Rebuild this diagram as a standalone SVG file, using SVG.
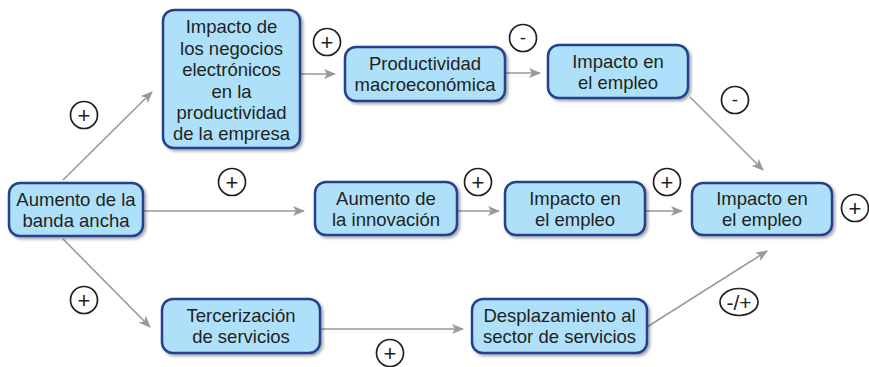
<svg xmlns="http://www.w3.org/2000/svg" width="869" height="367" viewBox="0 0 869 367">
<defs>
<filter id="sh" x="-10%" y="-10%" width="125%" height="130%">
<feDropShadow dx="2" dy="2" stdDeviation="1.5" flood-color="#000" flood-opacity="0.35"/>
</filter>
<marker id="ah" viewBox="0 0 12 10" refX="11" refY="5" markerWidth="12" markerHeight="10" markerUnits="userSpaceOnUse" orient="auto">
<path d="M0,0 L12,5 L0,10 L3,5 Z" fill="#999"/>
</marker>
</defs>
<style>
.box{fill:#aee1f9;stroke:#27408f;stroke-width:2.5;filter:url(#sh)}
.t{font-family:"Liberation Sans",Arial,sans-serif;font-size:18.5px;fill:#231f20;text-anchor:middle}
.c{fill:#fff;stroke:#231f20;stroke-width:1.7}
.s{font-family:"Liberation Sans",Arial,sans-serif;font-size:22px;fill:#231f20;text-anchor:middle}
.s2{font-family:"Liberation Sans",Arial,sans-serif;font-size:19px;fill:#231f20;text-anchor:middle}
.s3{font-family:"Liberation Sans",Arial,sans-serif;font-size:21px;fill:#231f20;text-anchor:middle}
.e{fill:none;stroke:#999;stroke-width:1.6;marker-end:url(#ah)}
</style>
<rect width="869" height="367" fill="#fff"/>
<g id="connectors">
<line class="e" x1="63" y1="180" x2="152" y2="92"/>
<line class="e" x1="63" y1="239" x2="150" y2="327"/>
<line class="e" x1="144" y1="211" x2="304" y2="211"/>
<line class="e" x1="300" y1="74" x2="335" y2="74"/>
<line class="e" x1="505" y1="73" x2="540" y2="73"/>
<line class="e" x1="690" y1="97" x2="763" y2="170"/>
<line class="e" x1="457" y1="211" x2="499" y2="211"/>
<line class="e" x1="645" y1="211" x2="682" y2="211"/>
<line class="e" x1="320" y1="329" x2="463" y2="329"/>
<line class="e" x1="647" y1="327" x2="767" y2="251"/>
</g>
<g id="signs">
<circle class="c" cx="84" cy="115" r="13.5"/><text class="s" x="84" y="123">+</text>
<circle class="c" cx="327" cy="42" r="13.5"/><text class="s" x="327" y="50">+</text>
<circle class="c" cx="523" cy="38" r="13.5"/><text class="s2" x="523" y="44">-</text>
<circle class="c" cx="735" cy="100" r="13.5"/><text class="s2" x="735" y="106">-</text>
<circle class="c" cx="232" cy="182" r="13.5"/><text class="s" x="232" y="190">+</text>
<circle class="c" cx="478" cy="182" r="13.5"/><text class="s" x="478" y="190">+</text>
<circle class="c" cx="667" cy="182" r="13.5"/><text class="s" x="667" y="190">+</text>
<circle class="c" cx="855" cy="208" r="13.5"/><text class="s" x="855" y="216">+</text>
<circle class="c" cx="84" cy="300" r="13.5"/><text class="s" x="84" y="308">+</text>
<circle class="c" cx="390" cy="353" r="13.5"/><text class="s" x="390" y="361">+</text>
<ellipse class="c" cx="739" cy="302" rx="19" ry="13.5"/><text class="s3" x="739" y="309.5">-/+</text>
</g>
<g id="n1"><rect class="box" x="9" y="183" width="134" height="53" rx="11"/><text class="t" x="76" y="206">Aumento de la</text><text class="t" x="76" y="227">banda ancha</text></g>
<g id="n2"><rect class="box" x="163" y="10" width="137" height="138" rx="11"/>
<text class="t" x="231.5" y="33">Impacto de</text><text class="t" x="231.5" y="54.5">los negocios</text><text class="t" x="231.5" y="76">electrónicos</text><text class="t" x="231.5" y="97.5">en la</text><text class="t" x="231.5" y="119">productividad</text><text class="t" x="231.5" y="140">de la empresa</text></g>
<g id="n3"><rect class="box" x="345" y="47" width="160" height="54" rx="11"/><text class="t" x="425" y="70">Productividad</text><text class="t" x="425" y="91">macroeconómica</text></g>
<g id="n4"><rect class="box" x="548" y="45" width="140" height="53" rx="11"/><text class="t" x="618" y="68">Impacto en</text><text class="t" x="618" y="89">el empleo</text></g>
<g id="n5"><rect class="box" x="315" y="182" width="142" height="53" rx="11"/><text class="t" x="386" y="205">Aumento de</text><text class="t" x="386" y="226">la innovación</text></g>
<g id="n6"><rect class="box" x="505" y="182" width="140" height="53" rx="11"/><text class="t" x="575" y="205">Impacto en</text><text class="t" x="575" y="226">el empleo</text></g>
<g id="n7"><rect class="box" x="692" y="183" width="140" height="52" rx="11"/><text class="t" x="762" y="205">Impacto en</text><text class="t" x="762" y="226">el empleo</text></g>
<g id="n8"><rect class="box" x="162" y="299" width="158" height="54" rx="11"/><text class="t" x="241" y="322">Tercerización</text><text class="t" x="241" y="343">de servicios</text></g>
<g id="n9"><rect class="box" x="472" y="299" width="175" height="54" rx="11"/><text class="t" x="559.5" y="322">Desplazamiento al</text><text class="t" x="559.5" y="343">sector de servicios</text></g>
</svg>
